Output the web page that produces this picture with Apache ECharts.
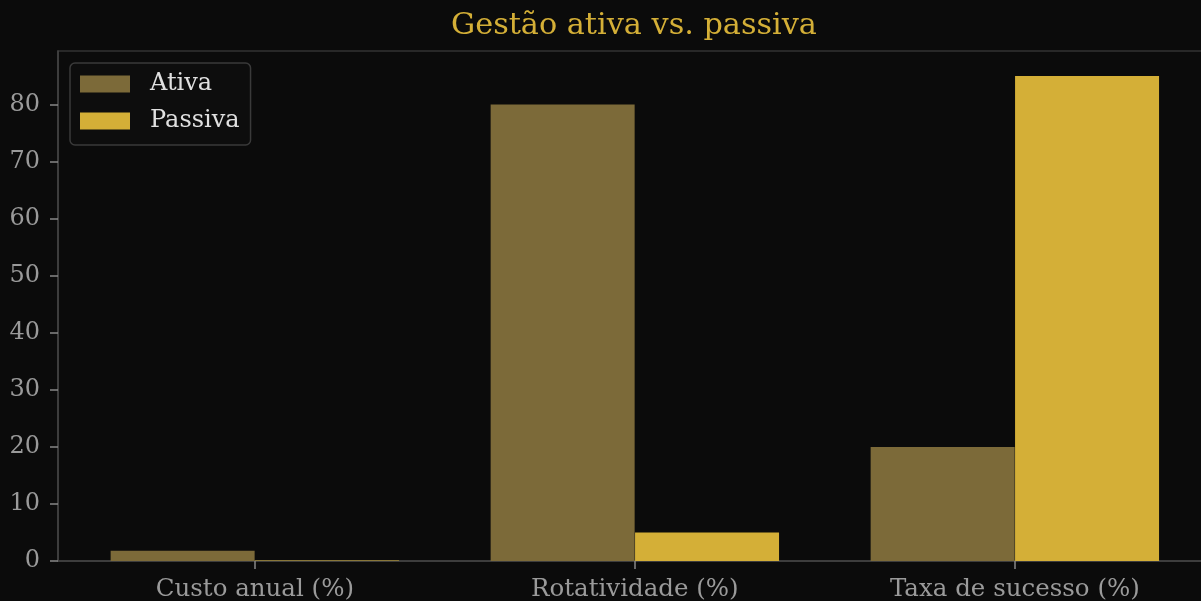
<!DOCTYPE html>
<html>
<head>
<meta charset="utf-8">
<script src="https://cdn.jsdelivr.net/npm/echarts@6/dist/echarts.min.js"></script>
<style>
  html, body { margin: 0; padding: 0; background: #0b0b0b; }
  #chart { width: 1201px; height: 601px; }
</style>
</head>
<body>
<div id="chart"></div>
<script>
const categories = ['Custo anual (%)', 'Rotatividade (%)', 'Taxa de sucesso (%)'];
const ativa = [1.8, 80, 20];
const passiva = [0.1, 5, 85];
const yTicks = [0, 10, 20, 30, 40, 50, 60, 70, 80];
const xTicks = [0, 1, 2];

const FONT = 'DejaVu Serif';
const HALF = 0.19;

const chart = echarts.init(document.getElementById('chart'));
chart.setOption({
  backgroundColor: '#0b0b0b',
  animation: false,
  title: {
    text: 'Gestão ativa vs. passiva',
    left: 446,
    top: 6,
    textStyle: { color: '#d4af37', fontFamily: FONT, fontSize: 30.3, fontWeight: 'normal' }
  },
  legend: {
    left: 70,
    top: 63,
    orient: 'vertical',
    itemWidth: 50,
    itemHeight: 17,
    itemGap: 13,
    icon: 'rect',
    padding: [9, 11, 12, 10],
    borderColor: '#3a3a3a',
    borderWidth: 1.5,
    borderRadius: 5,
    backgroundColor: '#0d0d0d',
    textStyle: { color: '#e0e0e0', fontFamily: FONT, fontSize: 24, padding: [0, 0, 0, 15] },
    data: ['Ativa', 'Passiva']
  },
  grid: {
    left: 58, top: 51, bottom: 40, right: -10.7,
    show: true, borderColor: '#333', borderWidth: 1.5,
    outerBoundsMode: 'none', containLabel: false
  },
  xAxis: {
    type: 'value',
    min: -0.518, max: 2.518,
    splitLine: { show: false },
    axisLine: { show: true, onZero: false, lineStyle: { color: '#444', width: 1.5 } },
    axisTick: { show: true, customValues: xTicks, length: 8, lineStyle: { color: '#888', width: 1.5 } },
    axisLabel: {
      customValues: xTicks,
      formatter: v => categories[Math.round(v)],
      color: '#9a9a9a', fontFamily: FONT, fontSize: 24.5, margin: 16
    }
  },
  yAxis: {
    type: 'value',
    min: 0, max: 89.4, interval: 10,
    splitLine: { show: false },
    axisLine: { show: true, onZero: false, lineStyle: { color: '#444', width: 1.5 } },
    axisTick: { show: true, customValues: yTicks, length: 8, lineStyle: { color: '#888', width: 1.5 } },
    axisLabel: {
      customValues: yTicks,
      color: '#9a9a9a', fontFamily: FONT, fontSize: 24, margin: 18
    }
  },
  series: [
    {
      name: 'Ativa', type: 'bar',
      barWidth: 144, barGap: '-100%',
      itemStyle: { color: '#7c6a39' },
      data: ativa.map((v, i) => [xTicks[i] - HALF, v])
    },
    {
      name: 'Passiva', type: 'bar',
      barWidth: 144, barGap: '-100%',
      itemStyle: { color: '#d4af37' },
      data: passiva.map((v, i) => [xTicks[i] + HALF, v])
    }
  ]
});
</script>
</body>
</html>
